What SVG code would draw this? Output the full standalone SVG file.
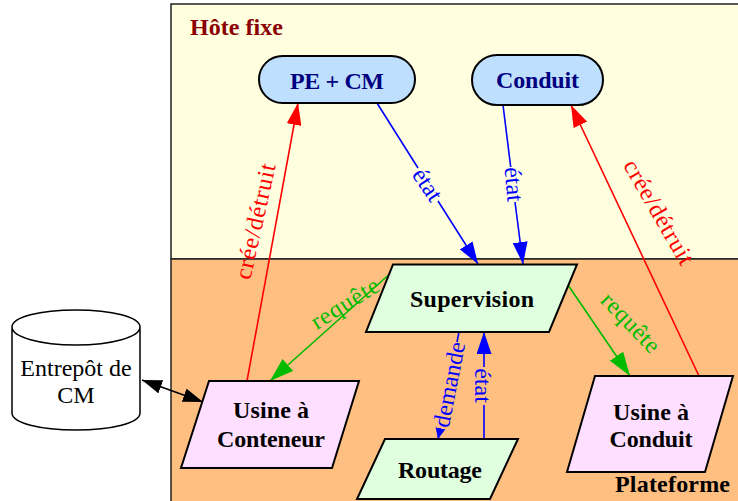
<svg xmlns="http://www.w3.org/2000/svg" width="738" height="501" viewBox="0 0 738 501">
<style>
text{font-family:"Liberation Serif","Times New Roman",serif;text-anchor:middle}
.n{font-size:24px;font-weight:bold;fill:#000}
.b{fill:#000080}
.s{stroke:#000;stroke-width:2}
.e{font-size:24px}
.l{fill:none;stroke-width:1.6}
</style>
<defs>
<marker id="ar" markerUnits="userSpaceOnUse" markerWidth="22" markerHeight="15" refX="22" refY="7.500" orient="auto"><path d="M0 0L22 7.500L0 15Z" fill="#f00"/></marker>
<marker id="ab" markerUnits="userSpaceOnUse" markerWidth="22" markerHeight="15" refX="22" refY="7.500" orient="auto"><path d="M0 0L22 7.500L0 15Z" fill="#00f"/></marker>
<marker id="as" markerUnits="userSpaceOnUse" markerWidth="11" markerHeight="10" refX="11" refY="5" orient="auto"><path d="M0 0L11 5L0 10Z" fill="#00f"/></marker>
<marker id="ag" markerUnits="userSpaceOnUse" markerWidth="24" markerHeight="16" refX="24" refY="8" orient="auto"><path d="M0 0L24 8L0 16Z" fill="#0b0"/></marker>
<marker id="ak" markerUnits="userSpaceOnUse" markerWidth="20" markerHeight="14" refX="20" refY="7" orient="auto-start-reverse"><path d="M0 0L20 7L0 14Z" fill="#000"/></marker>
</defs>
<g id="cluster-hote"><rect x="171" y="4" width="580" height="255" fill="#ffffe0" stroke="#222" stroke-width="1.5"/><text x="236.500" y="35" font-size="24" font-weight="bold" fill="#8b0000" textLength="93">Hôte fixe</text></g>
<g id="cluster-plateforme"><rect x="171" y="259" width="580" height="260" fill="#ffbf80" stroke="#222" stroke-width="1.5"/><text class="n" x="672.500" y="492" textLength="115">Plateforme</text></g>
<g id="connectors">
<path class="l" stroke="#f00" d="M247 381L298 103" marker-end="url(#ar)"/>
<path class="l" stroke="#f00" d="M699 376L571 105" marker-end="url(#ar)"/>
<path class="l" stroke="#00f" d="M377 103L418 168M438 201L478 264" marker-end="url(#ab)"/>
<path class="l" stroke="#00f" d="M503 105L510.700 167M515 202L523 264" marker-end="url(#ab)"/>
<path class="l" stroke="#00f" d="M459 332L457 342"/>
<path class="l" stroke="#00f" d="M440.500 428L438 439" marker-end="url(#as)"/>
<path class="l" stroke="#00f" d="M484 439V405M484 367V332" marker-end="url(#ab)"/>
<path class="l" stroke="#0b0" d="M393 271L270 381" marker-end="url(#ag)"/>
<path class="l" stroke="#0b0" d="M568 285L630 376" marker-end="url(#ag)"/>
<path class="l" stroke="#000" d="M142 380L203 402" marker-start="url(#ak)" marker-end="url(#ak)"/>
<text class="e" fill="#f00" transform="translate(263 223) rotate(-77.500)" textLength="118">crée/détruit</text>
<text class="e" fill="#f00" transform="translate(652 216) rotate(60)" textLength="117">crée/détruit</text>
<text class="e" fill="#00f" transform="translate(421 189) rotate(56)">état</text>
<text class="e" fill="#00f" transform="translate(506 185) rotate(85)">état</text>
<text class="e" fill="#00f" transform="translate(457 386) rotate(-79)">demande</text>
<text class="e" fill="#00f" transform="translate(474.500 385.500) rotate(90)">état</text>
<text class="e" fill="#0b0" transform="translate(349 310) rotate(-32)" textLength="76">requête</text>
<text class="e" fill="#0b0" transform="translate(625 328) rotate(46)" textLength="74">requête</text>
</g>
<g id="pe-cm"><rect class="s" x="259" y="56" width="156" height="47" rx="23.500" fill="#bfdfff"/><text class="n b" x="337" y="88.500" textLength="94">PE + CM</text></g>
<g id="conduit"><rect class="s" x="472" y="55" width="131" height="50" rx="25" fill="#bfdfff"/><text class="n b" x="537.500" y="88" textLength="83">Conduit</text></g>
<g id="supervision"><path class="s" d="M393 264.500H577L549 332H366Z" fill="#dfffdf"/><text class="n" x="472" y="307" textLength="124">Supervision</text></g>
<g id="routage"><path class="s" d="M385 439H518L490 499H357Z" fill="#dfffdf"/><text class="n" x="440" y="478" textLength="84">Routage</text></g>
<g id="usine-conteneur"><path class="s" d="M209 381H359L332 468H181Z" fill="#ffdfff"/><text class="n" x="271" y="418" textLength="76">Usine à</text><text class="n" x="271" y="447" textLength="108">Conteneur</text></g>
<g id="usine-conduit"><path class="s" d="M595 376H733L705 472H567Z" fill="#ffdfff"/><text class="n" x="651" y="420" textLength="76">Usine à</text><text class="n" x="651" y="447" textLength="83">Conduit</text></g>
<g id="entrepot"><path d="M12 327V413C12 423 40 430 76 430S140 423 140 413V327C140 317 112 310 76 310S12 317 12 327C12 337 40 345 76 345S140 337 140 327" fill="#fff" stroke="#000" stroke-width="1.5"/><text x="76" y="376" font-size="24">Entrepôt de</text><text x="76" y="403" font-size="24">CM</text></g>
</svg>
